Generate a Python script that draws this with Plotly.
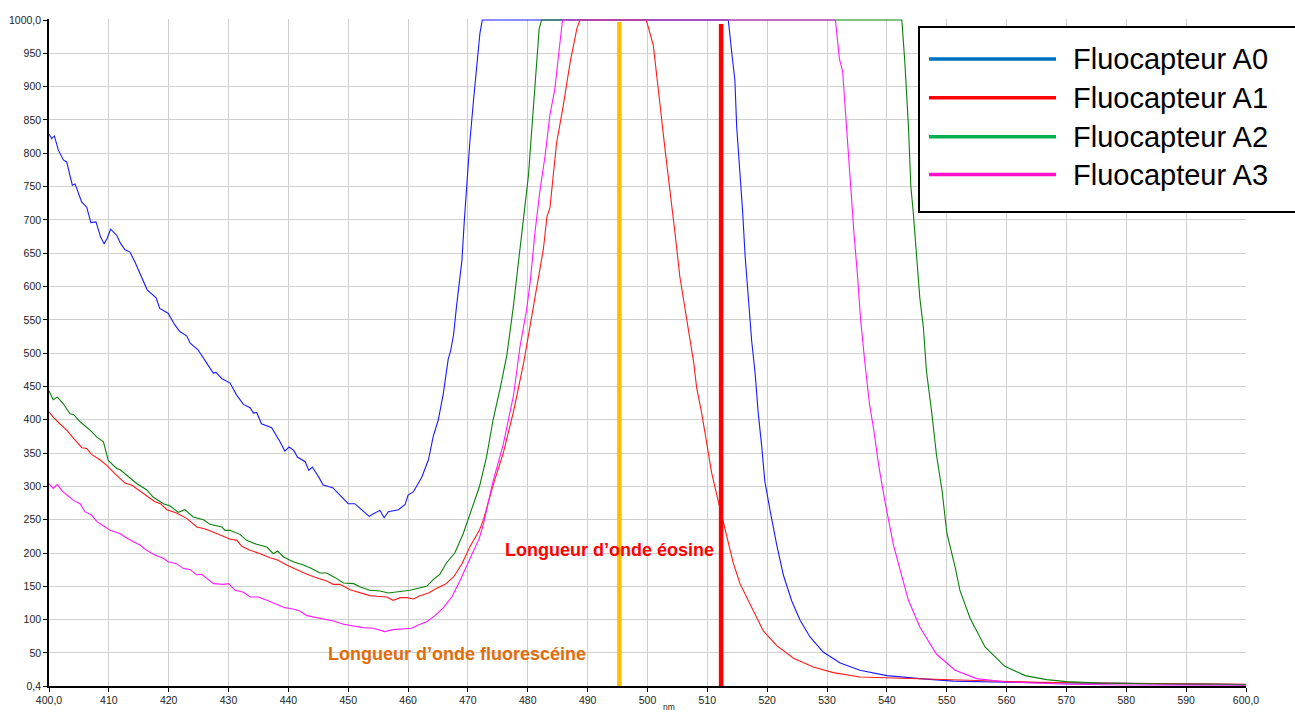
import plotly.graph_objects as go

# ---- spectral data (wavelength in nm, signal counts) ----
a0_nm = [400.0, 400.45, 400.9, 401.55, 402.4, 402.95, 403.9, 404.35, 405.45, 406.3, 407.0, 407.85, 408.6,
         409.2, 409.7, 410.3, 411.3, 412.0, 412.7, 413.5, 414.4, 415.2, 416.4, 417.9, 418.5, 419.9, 421.05,
         421.9, 423.0, 423.6, 424.9, 426.35, 427.45, 427.9, 428.85, 430.25, 431.35, 432.5, 433.6, 434.15,
         434.7, 435.5, 437.2, 438.6, 439.4, 440.1, 440.9, 441.5, 442.8, 443.4, 444.0, 445.2, 445.8, 447.4,
         448.9, 450.0, 451.1, 452.25, 453.5, 454.2, 455.3, 456.0, 456.7, 458.4, 459.5, 460.0, 460.9, 462.3,
         463.4, 464.2, 465.05, 465.9, 466.7, 467.1, 467.6, 468.1, 468.6, 469.0, 469.4, 469.8, 470.3, 470.9,
         471.5, 472.0, 472.4, 513.5, 514.1, 514.6, 514.9, 515.45, 515.9, 516.3, 516.85, 517.4, 518.0, 518.5,
         519.1, 519.6, 520.5, 521.6, 522.7, 524.1, 525.5, 527.15, 529.4, 532.2, 535.5, 540.0, 545.5, 551.1,
         560.0, 570.0, 580.0, 590.0, 600.0]
a0_val = [829, 822, 826, 805, 790, 787, 752, 754, 727, 719, 696, 697, 675,
          664, 672, 686, 677, 664, 655, 652, 636, 620, 595, 583, 567, 560, 542,
          532, 526, 515, 505, 485, 470, 471, 462, 455, 437, 423, 418, 410,
          411, 394, 388, 367, 353, 359, 354, 344, 337, 324, 329, 312, 302, 298,
          285, 274, 274, 265, 255, 259, 264, 253, 262, 265, 273, 287, 292, 314,
          340, 375, 400, 440, 491, 503, 528, 571, 605, 640, 700, 754, 815, 877,
          938, 980, 1000, 1000, 949, 910, 840, 776, 712, 647, 583, 519, 468, 410,
          359, 308, 263, 212, 167, 128, 99, 74, 51, 35, 24, 16, 11.5, 7.7,
          6, 5, 4, 3, 2.5]

a1_nm = [400.0, 400.7, 401.8, 403.0, 404.1, 405.5, 406.3, 407.1, 408.5, 409.6, 411.0, 412.7, 413.8, 415.2,
         416.9, 417.7, 418.6, 419.7, 421.3, 423.0, 424.7, 426.1, 427.5, 429.1, 430.2, 431.4, 432.2, 433.6,
         435.3, 436.9, 438.3, 439.7, 441.4, 443.1, 444.7, 446.4, 447.5, 448.6, 450.3, 452.0, 453.6, 454.8,
         456.4, 457.5, 458.7, 459.8, 460.9, 462.0, 463.4, 464.8, 466.2, 467.6, 469.0, 470.3, 471.9, 472.6,
         474.2, 475.9, 477.6, 479.3, 480.9, 482.6, 483.2, 483.7, 484.8, 485.9, 487.1, 488.2, 488.7, 499.8,
         500.97, 501.5, 502.1, 502.9, 503.8, 504.6, 505.4, 506.3, 506.8, 507.7, 508.2, 509.05, 509.9, 510.7,
         511.55, 512.4, 513.5, 514.3, 515.45, 517.1, 519.35, 521.6, 524.4, 527.7, 531.05, 535.5, 540.0,
         547.8, 555.0, 565.0, 575.0, 585.0, 600.0]
a1_val = [412, 404, 394, 384, 372, 358, 357, 348, 340, 332, 319, 305, 302, 293,
          282, 277, 274, 265, 260, 252, 239, 236, 231, 225, 221, 219, 210, 204,
          199, 193, 189, 182, 175, 168, 163, 158, 153, 153, 145, 140, 136, 135,
          134, 129, 133, 133, 131, 136, 140, 147, 153, 164, 184, 209, 234, 250,
          302, 350, 412, 485, 571, 656, 705, 718, 815, 870, 938, 987, 1000, 1000,
          962, 923, 872, 808, 744, 680, 615, 564, 532, 487, 449, 410, 365, 321,
          288, 256, 218, 186, 154, 125, 83, 61, 42, 29, 20.5, 14, 12.8,
          9.6, 8, 6, 5, 4, 3]

a2_nm = [400.0, 400.7, 401.4, 402.4, 403.5, 404.1, 405.2, 406.9, 408.0, 409.1, 409.9, 411.3, 411.9, 413.3,
         414.7, 416.3, 417.4, 419.1, 420.2, 421.6, 422.7, 424.1, 425.8, 426.9, 428.9, 429.4, 430.2, 431.9,
         433.0, 434.7, 436.4, 437.5, 438.2, 439.2, 440.8, 442.5, 443.6, 445.3, 446.4, 447.8, 449.2, 450.9,
         452.0, 453.6, 455.3, 456.7, 458.7, 460.3, 461.7, 463.1, 464.2, 465.3, 466.4, 467.8, 469.2, 470.6,
         471.9, 473.1, 474.2, 475.4, 476.5, 477.6, 478.4, 479.3, 479.8, 480.1, 480.7, 481.2, 481.5, 481.9,
         482.3, 542.5, 543.0, 543.6, 544.0, 544.4, 545.0, 545.5, 546.1, 546.6, 547.5, 548.3, 549.2, 550.0,
         550.5, 551.4, 552.2, 553.9, 556.4, 559.7, 563.1, 566.7, 570.0, 575.6, 586.8, 600.0]
a2_val = [443, 430, 434, 424, 409, 408, 397, 384, 374, 367, 339, 327, 325, 315,
          304, 295, 284, 274, 271, 261, 265, 254, 250, 243, 239, 234, 234, 228,
          219, 213, 209, 199, 203, 194, 187, 182, 178, 170, 170, 163, 155, 154,
          149, 144, 143, 140, 142, 144, 147, 150, 160, 168, 185, 200, 229, 264,
          299, 344, 400, 448, 497, 571, 632, 705, 742, 766, 840, 907, 950, 987,
          1000, 1000, 936, 840, 750, 712, 641, 583, 538, 474, 410, 346, 295, 231,
          212, 179, 144, 102, 59, 30, 16, 10, 7, 5, 3.5, 2.5]

a3_nm = [400.0, 400.7, 401.4, 402.1, 403.0, 404.1, 405.2, 406.0, 407.1, 408.0, 409.4, 410.2, 411.9, 412.7,
         414.1, 415.2, 416.3, 417.7, 419.1, 419.9, 421.3, 422.4, 423.6, 424.7, 425.5, 426.3, 427.5, 429.1,
         430.0, 431.1, 432.5, 433.6, 435.0, 436.4, 437.8, 439.4, 440.8, 441.9, 443.1, 444.7, 445.8, 447.5,
         449.2, 450.9, 452.5, 454.2, 456.1, 457.5, 459.2, 460.6, 461.7, 463.1, 464.5, 465.9, 467.3, 468.7,
         470.1, 471.9, 472.6, 474.2, 475.9, 477.6, 478.7, 479.8, 480.4, 481.2, 482.0, 482.9, 483.7, 484.5,
         485.1, 485.8, 531.4, 531.7, 532.06, 532.6, 533.0, 533.55, 533.95, 534.5, 535.1, 535.6, 536.3, 537.1,
         537.8, 538.6, 539.7, 541.1, 542.5, 543.6, 545.5, 548.3, 551.4, 555.0, 560.0, 570.0, 580.0, 590.0,
         600.0]
a3_val = [304, 297, 303, 294, 287, 279, 274, 262, 257, 247, 239, 234, 229, 224,
          217, 212, 204, 197, 192, 187, 184, 177, 175, 167, 168, 162, 154, 153,
          154, 144, 141, 134, 134, 129, 124, 118, 116, 113, 106, 103, 101, 98,
          93, 90, 88, 87, 82, 85, 86, 87, 92, 97, 106, 118, 134, 159,
          187, 222, 244, 308, 363, 436, 510, 565, 607, 681, 742, 797, 858, 895,
          944, 1000, 1000, 968, 942, 923, 872, 808, 744, 680, 615, 551, 487, 423,
          385, 333, 276, 212, 165, 129, 89, 48, 24, 11.5, 6.5, 3, 2, 1.5,
          1.5]

series_names = ["Fluocapteur A0", "Fluocapteur A1", "Fluocapteur A2", "Fluocapteur A3"]
series_colors = ["#1A1AFF", "#FF1A1A", "#0A800A", "#FF1AFF"]
legend_colors = ["#0070C0", "#FF0000", "#00B050", "#FF10C8"]

# reference wavelengths (fluorescein, eosin)
marker_nm = [495.3, 512.3]
marker_top = [997, 994]
marker_colors = ["#FFC000", "#FF0000"]
marker_labels = ["Longueur d\u2019onde fluoresc\u00e9ine", "Longueur d\u2019onde \u00e9osine"]
marker_label_colors = ["#E36C0A", "#FF0000"]

x_ticks = list(range(400, 601, 10))
x_ticktext = ["400,0"] + [str(v) for v in x_ticks[1:-1]] + ["600,0"]
y_ticks = [0.4] + list(range(50, 1001, 50))
y_ticktext = ["0,4"] + [str(v) for v in range(50, 951, 50)] + ["1000,0"]

W, H = 1295, 713
ML, MR, MT, MB = 49, 49, 19, 27
PW, PH = W - ML - MR, H - MT - MB


def px(x):
    return (x - ML) / PW


def py(y):
    return (H - MB - y) / PH


fig = go.Figure()

for xs, ys, name, col in zip([a0_nm, a1_nm, a2_nm, a3_nm], [a0_val, a1_val, a2_val, a3_val],
                             series_names, series_colors):
    fig.add_trace(go.Scatter(x=xs, y=ys, mode="lines", name=name,
                             line=dict(color=col, width=1.1), showlegend=False))

for xm, top, col in zip(marker_nm, marker_top, marker_colors):
    fig.add_trace(go.Scatter(x=[xm, xm], y=[0.4, top], mode="lines",
                             line=dict(color=col, width=4.5), showlegend=False))

# labels for the reference wavelengths
fig.add_annotation(x=468.1, y=49, xref="x", yref="y", text="<b>" + marker_labels[0] + "</b>",
                   showarrow=False, font=dict(family="Liberation Sans", size=18, color=marker_label_colors[0]))
fig.add_annotation(x=493.65, y=204, xref="x", yref="y", text="<b>" + marker_labels[1] + "</b>",
                   showarrow=False, font=dict(family="Liberation Sans", size=18, color=marker_label_colors[1]))

# x axis unit, just beside the 500 tick label
fig.add_annotation(x=503.6, y=py(H), xref="x", yref="paper", text="nm", showarrow=False,
                   yanchor="bottom", borderpad=0,
                   font=dict(family="Liberation Sans", size=8.5, color="#222"))

# legend box
shapes = [dict(type="rect", xref="paper", yref="paper", x0=px(919), x1=px(1310), y0=py(212), y1=py(27),
               line=dict(color="black", width=2), fillcolor="white", layer="above")]
rows = [59, 97.7, 136.7, 174.5]
for ry, col, name in zip(rows, legend_colors, series_names):
    shapes.append(dict(type="line", xref="paper", yref="paper", x0=px(929), x1=px(1056), y0=py(ry), y1=py(ry),
                       line=dict(color=col, width=3.5), layer="above"))
    fig.add_annotation(x=px(1071), y=py(ry), xref="paper", yref="paper", text=name, showarrow=False,
                       xanchor="left", yanchor="middle",
                       font=dict(family="Liberation Sans", size=29, color="black"))

fig.update_layout(
    width=W, height=H,
    margin=dict(l=ML, r=MR, t=MT, b=MB, pad=0, autoexpand=False),
    paper_bgcolor="white", plot_bgcolor="white",
    shapes=shapes,
    showlegend=False,
    font=dict(family="Liberation Sans", size=10.5, color="#222"),
)
fig.update_xaxes(range=[400, 600], tickmode="array", tickvals=x_ticks, ticktext=x_ticktext,
                 automargin=False,
                 showgrid=True, gridcolor="#D0D0D0", gridwidth=1,
                 showline=True, linecolor="black", linewidth=1.5,
                 ticks="outside", ticklen=4, tickcolor="black", tickwidth=1,
                 zeroline=False, tickfont=dict(size=10.5, color="#222"))
fig.update_yaxes(range=[0.4, 1001.5], tickmode="array", tickvals=y_ticks, ticktext=y_ticktext,
                 automargin=False,
                 showgrid=True, gridcolor="#D0D0D0", gridwidth=1,
                 showline=True, linecolor="black", linewidth=1.5,
                 ticks="outside", ticklen=4, tickcolor="black", tickwidth=1,
                 zeroline=False, tickfont=dict(size=10.5, color="#222"))

fig.write_html("out.html")
